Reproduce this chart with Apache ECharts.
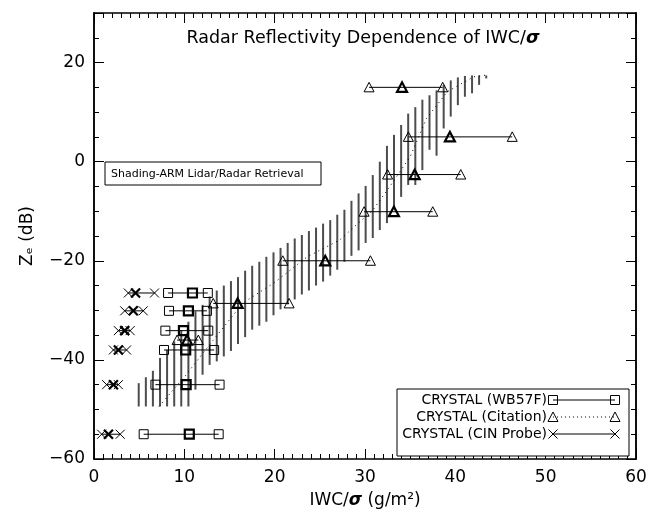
<!DOCTYPE html>
<html>
<head>
<meta charset="utf-8">
<script src="https://cdn.jsdelivr.net/npm/echarts@6/dist/echarts.min.js"></script>
<style>
  html, body { margin: 0; padding: 0; background: #fff; }
  #chart { width: 651px; height: 519px; }
</style>
</head>
<body>
<div id="chart"></div>
<script>
// CRYSTAL (WB57F) rows: Ze, min, mean, max of IWC/sigma
const wbZe = [-26.5, -30.1, -34.1, -38.0, -45.0, -55.0];
const wbMin = [8.2, 8.3, 7.9, 7.75, 6.8, 5.5];
const wbMean = [10.9, 10.45, 9.9, 10.15, 10.2, 10.55];
const wbMax = [12.6, 12.5, 12.65, 13.3, 13.9, 13.8];

// CRYSTAL (Citation)
const citZe = [15.0, 5.0, -2.6, -10.1, -20.0, -28.6, -36.0];
const citMin = [30.45, 34.8, 32.5, 29.9, 20.9, 13.2, 9.2];
const citMean = [34.1, 39.4, 35.5, 33.2, 25.6, 15.9, 10.3];
const citMax = [38.6, 46.3, 40.6, 37.5, 30.6, 21.6, 11.55];

// CRYSTAL (CIN Probe)
const cinZe = [-26.5, -30.1, -34.1, -38.0, -45.0, -55.0];
const cinMin = [3.8, 3.4, 2.7, 2.15, 1.4, 0.85];
const cinMean = [4.6, 4.35, 3.4, 2.7, 2.15, 1.6];
const cinMax = [6.7, 5.45, 4.0, 3.6, 2.7, 2.9];

// ARM lidar/radar retrieval shading (vertical bars)
const bandX = [4.95, 5.74, 6.52, 7.31, 8.09, 8.88, 9.66, 10.45, 11.23, 12.02,
  12.80, 13.59, 14.37, 15.16, 15.94, 16.73, 17.51, 18.30, 19.08, 19.87,
  20.65, 21.44, 22.22, 23.01, 23.79, 24.58, 25.36, 26.15, 26.93, 27.72,
  28.50, 29.29, 30.07, 30.86, 31.64, 32.43, 33.21, 34.00, 34.78, 35.57,
  36.35, 37.14, 37.92, 38.71, 39.49, 40.28, 41.06, 41.85, 42.63, 43.42];
const bandLow = [-49.4, -49.4, -49.4, -49.4, -49.4, -49.4, -49.4, -49.4, -46.0, -43.0,
  -41.0, -40.3, -39.3, -38.2, -36.8, -35.4, -33.9, -33.1, -32.3, -31.0,
  -29.8, -28.8, -27.8, -26.8, -26.0, -25.0, -24.2, -23.0, -21.8, -20.2,
  -19.0, -17.9, -16.4, -15.4, -13.8, -12.4, -9.5, -7.1, -4.7, -4.7,
  -1.7, 2.4, 1.2, 6.7, 9.1, 11.4, 13.1, 13.8, 15.5, 16.8];
const bandHigh = [-44.7, -43.5, -42.2, -39.6, -38.0, -36.3, -34.0, -32.3, -30.2, -28.9,
  -27.2, -26.0, -25.0, -24.1, -23.3, -22.0, -21.0, -20.2, -19.2, -18.3,
  -17.4, -16.4, -15.5, -14.8, -14.0, -13.3, -12.5, -11.8, -10.7, -9.7,
  -7.9, -6.4, -4.9, -2.7, 0.0, 3.2, 5.4, 7.4, 9.7, 11.0,
  12.5, 13.4, 14.4, 15.5, 16.4, 17.0, 17.3, 17.4, 17.4, 17.4];

// dotted centre line of the retrieval
const centerX = [7.2, 10.2, 13.2, 16.5, 19.9, 23.6, 27.2, 30.9, 32.6, 35.0, 36.8, 39.1, 42.0, 43.5];
const centerY = [-49.4, -43.0, -36.0, -28.5, -24.5, -19.2, -15.8, -9.7, -5.4, 1.0, 8.7, 14.1, 17.1, 17.5];

const xTicks = [0, 10, 20, 30, 40, 50, 60];
const yTicks = [-60, -40, -20, 0, 20];

const FONT = "DejaVu Sans";

function marker(kind, p, w) {
  const x = p[0], y = p[1];
  const st = { stroke: "#000", fill: "none", lineWidth: w };
  if (kind === "square") {
    return { type: "rect", shape: { x: x - 4.5, y: y - 4.5, width: 9, height: 9 }, style: st };
  }
  if (kind === "triangle") {
    return { type: "polygon", shape: { points: [[x - 5, y + 4.5], [x + 5, y + 4.5], [x, y - 5]] }, style: st };
  }
  return {
    type: "group",
    children: [
      { type: "line", shape: { x1: x - 4.5, y1: y - 4.5, x2: x + 4.5, y2: y + 4.5 }, style: st },
      { type: "line", shape: { x1: x - 4.5, y1: y + 4.5, x2: x + 4.5, y2: y - 4.5 }, style: st }
    ]
  };
}

function withZ(el, z) {
  el.z = z;
  if (el.children) el.children.forEach(c => withZ(c, z));
  return el;
}

function rowSeries(name, kind, ze, mn, mean, mx) {
  return {
    name: name,
    type: "custom",
    xAxisIndex: 0,
    yAxisIndex: 0,
    data: ze.map((z, i) => [z, mn[i], mean[i], mx[i]]),
    encode: { x: [1, 2, 3], y: 0 },
    z: 5,
    renderItem: function (params, api) {
      const z = api.value(0);
      const a = api.coord([api.value(1), z]);
      const m = api.coord([api.value(2), z]);
      const b = api.coord([api.value(3), z]);
      return {
        type: "group",
        children: [
          { type: "line", shape: { x1: a[0], y1: a[1], x2: b[0], y2: b[1] }, style: { stroke: "#000", lineWidth: 1 } },
          marker(kind, a, 1),
          marker(kind, b, 1),
          marker(kind, m, 2.2)
        ]
      };
    }
  };
}

function legendRow(label, kind, y, dotted) {
  const a = [553, y], b = [615, y];
  return [
    { type: "text", x: 547, y: y, style: { text: label, font: "14px '" + FONT + "'", fill: "#000", align: "right", verticalAlign: "middle" } },
    { type: "line", shape: { x1: a[0], y1: y, x2: b[0], y2: y }, style: { stroke: "#000", lineWidth: 1, lineDash: dotted ? [1, 3] : null } },
    marker(kind, a, 1),
    marker(kind, b, 1)
  ].map(el => withZ(el, 11));
}

const xAxisBase = {
  type: "value", min: 0, max: 60, interval: 10,
  axisLine: { onZero: false, lineStyle: { color: "#000", width: 1.5 } },
  axisTick: { inside: true, length: 10, lineStyle: { color: "#000" } },
  minorTick: { show: true, splitNumber: 10, length: 5, lineStyle: { color: "#000" } },
  splitLine: { show: false }
};
function yAxisDef(pos, step, len, labels) {
  return {
    type: "value", position: pos, min: -60, max: 30, interval: step, offset: 0,
    axisLine: { show: true, onZero: false, lineStyle: { color: "#000", width: 1.5 } },
    axisTick: { inside: true, length: len, lineStyle: { color: "#000" } },
    axisLabel: labels ? {
      show: true, margin: 9, fontSize: 17, fontFamily: FONT, color: "#000",
      formatter: v => (yTicks.indexOf(v) >= 0 ? String(v).replace("-", "\u2212") : "")
    } : { show: false },
    splitLine: { show: false }
  };
}

const chart = echarts.init(document.getElementById("chart"));
chart.setOption({
  animation: false,
  backgroundColor: "#fff",
  grid: { left: 94, right: 15, top: 13, bottom: 60 },
  xAxis: [
    Object.assign({}, xAxisBase, {
      position: "bottom",
      axisLabel: {
        margin: 10, fontSize: 17, fontFamily: FONT, color: "#000",
        formatter: v => (xTicks.indexOf(v) >= 0 ? String(v) : "")
      },
      name: "IWC/{s|\u03c3} (g/m\u00b2)", nameLocation: "middle", nameGap: 33,
      nameTextStyle: {
        fontSize: 17, fontFamily: FONT, color: "#000",
        rich: { s: { fontSize: 17, fontFamily: FONT, fontWeight: "bold", fontStyle: "italic", color: "#000" } }
      }
    }),
    Object.assign({}, xAxisBase, { position: "top", axisLabel: { show: false } })
  ],
  yAxis: [
    Object.assign(yAxisDef("left", 20, 10, true), {
      name: "Z\u2091 (dB)", nameLocation: "middle", nameGap: 58,
      nameTextStyle: { fontSize: 17, fontFamily: FONT, color: "#000" }
    }),
    yAxisDef("left", 5, 5, false),
    yAxisDef("right", 20, 10, false),
    yAxisDef("right", 5, 5, false)
  ],
  series: [
    {
      name: "ARM Lidar/Radar Retrieval",
      type: "custom",
      xAxisIndex: 0, yAxisIndex: 0,
      data: bandX.map((x, i) => [x, bandLow[i], bandHigh[i]]),
      encode: { x: 0, y: [1, 2] },
      z: 2,
      renderItem: function (params, api) {
        const p1 = api.coord([api.value(0), api.value(1)]);
        const p2 = api.coord([api.value(0), api.value(2)]);
        return { type: "line", shape: { x1: p1[0], y1: p1[1], x2: p2[0], y2: p2[1] }, style: { stroke: "#4d4d4d", lineWidth: 2 } };
      }
    },
    {
      name: "centre",
      type: "line",
      xAxisIndex: 0, yAxisIndex: 0,
      data: centerX.map((x, i) => [x, centerY[i]]),
      symbol: "none",
      z: 3,
      lineStyle: { color: "#000", width: 1, type: [1, 4] }
    },
    rowSeries("CRYSTAL (WB57F)", "square", wbZe, wbMin, wbMean, wbMax),
    rowSeries("CRYSTAL (Citation)", "triangle", citZe, citMin, citMean, citMax),
    rowSeries("CRYSTAL (CIN Probe)", "cross", cinZe, cinMin, cinMean, cinMax)
  ],
  graphic: [
    {
      type: "text", x: 363, y: 38, z: 11,
      style: {
        text: "Radar Reflectivity Dependence of IWC/{s|\u03c3}",
        font: "17.5px '" + FONT + "'", fill: "#000", align: "center", verticalAlign: "middle",
        rich: { s: { fontSize: 17.5, fontFamily: FONT, fontWeight: "bold", fontStyle: "italic", fill: "#000" } }
      }
    },
    { type: "rect", z: 10, shape: { x: 105, y: 162, width: 216, height: 23 }, style: { stroke: "#000", fill: "#fff", lineWidth: 1 } },
    { type: "text", x: 111, y: 174, z: 11, style: { text: "Shading-ARM Lidar/Radar Retrieval", font: "11px '" + FONT + "'", fill: "#000", verticalAlign: "middle" } },
    { type: "rect", z: 10, shape: { x: 397, y: 389, width: 232, height: 67 }, style: { stroke: "#000", fill: "#fff", lineWidth: 1 } }
  ]
    .concat(legendRow("CRYSTAL (WB57F)", "square", 400, false))
    .concat(legendRow("CRYSTAL (Citation)", "triangle", 417, true))
    .concat(legendRow("CRYSTAL (CIN Probe)", "cross", 434, false))
});
</script>
</body>
</html>
